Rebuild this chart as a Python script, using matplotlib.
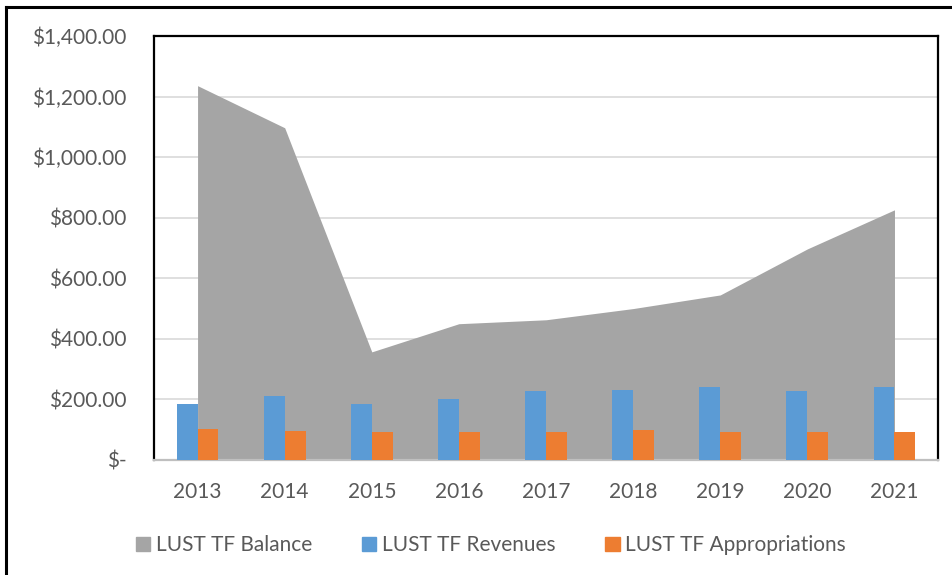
import numpy as np
import matplotlib.pyplot as plt
from matplotlib.lines import Line2D
from matplotlib.patches import Patch

# LUST trust fund figures
years = ['2013', '2014', '2015', '2016', '2017', '2018', '2019', '2020', '2021']
balance = [1236, 1097, 357, 450, 463, 500, 545, 697, 826]
revenues = [185, 212, 185, 202, 227, 231, 241, 229, 241]
appropriations = [102, 95, 93, 93, 92, 99, 94, 92, 92]
yticks = [0, 200, 400, 600, 800, 1000, 1200, 1400]
ytick_labels = ['$-', '$200.00', '$400.00', '$600.00', '$800.00',
                '$1,000.00', '$1,200.00', '$1,400.00']

plt.rcParams['font.family'] = ['Lato', 'DejaVu Sans']
txt = '#595959'
gray = '#A5A5A5'
blue = '#5B9BD5'
orange = '#ED7D31'

fig = plt.figure(figsize=(9.53, 5.75), dpi=100)
ax = fig.add_axes([0.1616, 0.2, 0.8227, 0.7374])

x = np.arange(len(years))
w = 0.24

ax.fill_between(x, balance, 0, color=gray, lw=0, zorder=2)
ax.bar(x - w / 2, revenues, w, color=blue, zorder=3)
ax.bar(x + w / 2, appropriations, w, color=orange, zorder=3)

ax.set_xlim(-0.5, len(years) - 0.5)
ax.set_ylim(0, 1400)
ax.set_yticks(yticks)
ax.set_yticklabels(ytick_labels)
ax.set_xticks(x)
ax.set_xticklabels(years)
ax.tick_params(axis='both', length=0, labelsize=15, labelcolor=txt)
ax.tick_params(axis='x', pad=16)
ax.tick_params(axis='y', pad=20)
ax.grid(axis='y', color='#D9D9D9', lw=1.2, zorder=1)
ax.set_axisbelow(True)

for s in ['left', 'top', 'right']:
    ax.spines[s].set_color('black')
    ax.spines[s].set_linewidth(1.6)
ax.spines['bottom'].set_color('#BFBFBF')
ax.spines['bottom'].set_linewidth(1.6)

handles = [Patch(color=gray), Patch(color=blue), Patch(color=orange)]
fig.legend(handles, ['LUST TF Balance', 'LUST TF Revenues', 'LUST TF Appropriations'],
           loc='center', bbox_to_anchor=(0.515, 0.052), ncol=3, frameon=False,
           fontsize=15, labelcolor=txt, handlelength=0.7, handleheight=0.7,
           handletextpad=0.25, columnspacing=2.4)

# outer frame of the figure box (only top and left edges show)
fig.add_artist(Line2D([0.0063, 0.0063], [0.0, 0.988], color='black', lw=2.2))
fig.add_artist(Line2D([0.0063, 1.0], [0.988, 0.988], color='black', lw=2.2))

fig.savefig('out.png', dpi=100)
